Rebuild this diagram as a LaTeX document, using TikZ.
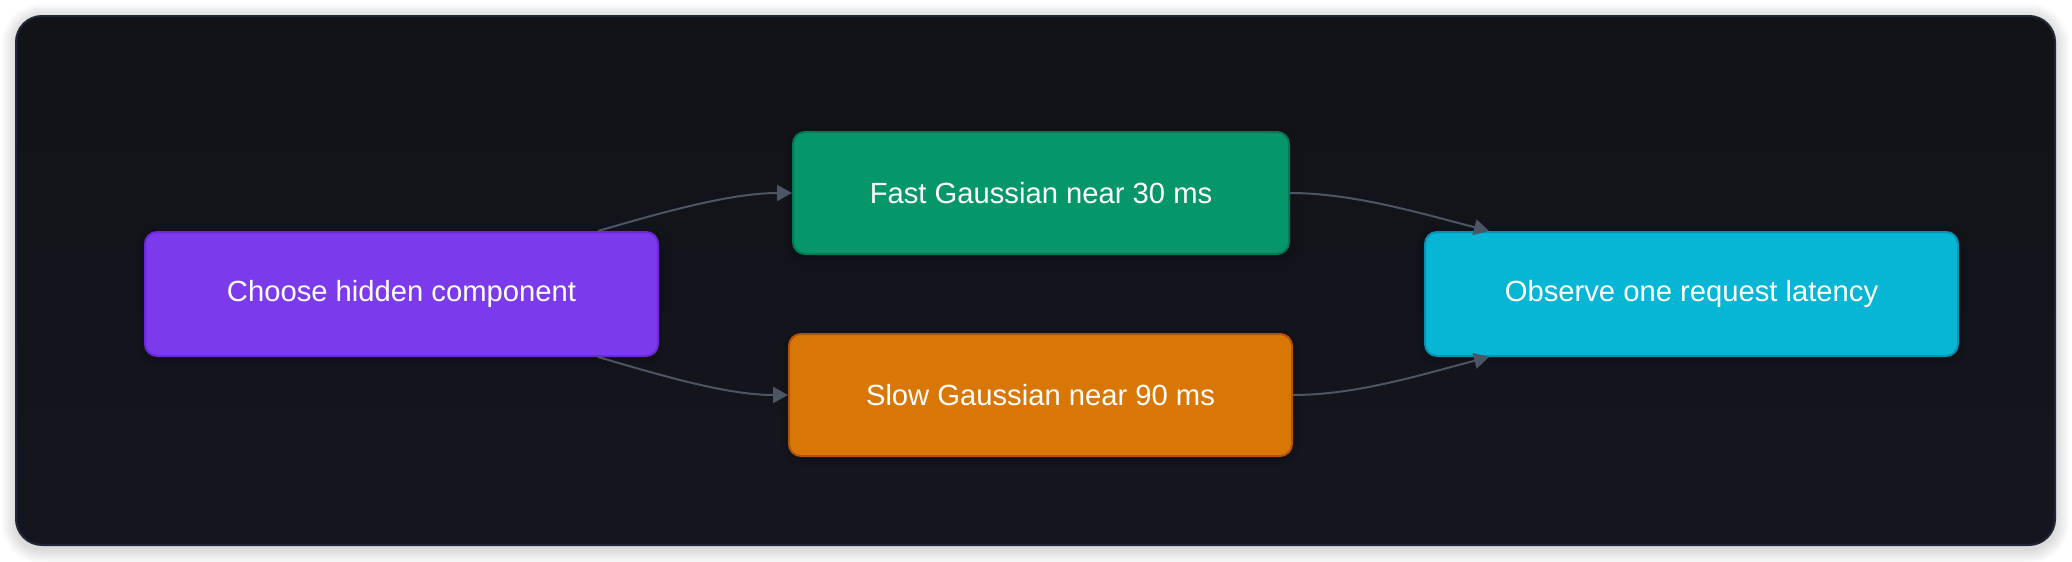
\documentclass[tikz,border=0pt]{standalone}
\usepackage{fontspec}
\setmainfont{Liberation Sans}
\usetikzlibrary{calc,arrows.meta,shadows.blur}

\definecolor{panelTop}{HTML}{111317}
\definecolor{panelBot}{HTML}{15151F}
\definecolor{panelEdge}{HTML}{1F2738}
\definecolor{wire}{HTML}{4B5563}
\definecolor{purpleFill}{HTML}{7C3AED}
\definecolor{purpleEdge}{HTML}{6D28D9}
\definecolor{greenFill}{HTML}{059669}
\definecolor{greenEdge}{HTML}{047857}
\definecolor{orangeFill}{HTML}{D97706}
\definecolor{orangeEdge}{HTML}{B45309}
\definecolor{cyanFill}{HTML}{06B6D4}
\definecolor{cyanEdge}{HTML}{0891B2}

\tikzset{
	box/.style={rounded corners=6pt, line width=1pt, inner sep=0pt, text=white,
		font=\fontsize{14.6}{18}\selectfont,
		blur shadow={shadow xshift=0pt, shadow yshift=-1.5pt, shadow blur radius=4pt, shadow opacity=30}},
	wireline/.style={draw=wire, line width=1pt, -{Triangle[length=7.5pt,width=8pt]}}
}

\begin{document}
\begin{tikzpicture}[x=0.5pt, y=-0.5pt]
		%%%%% START %%%%%
		
		\useasboundingbox[fill=white] (0, 0) rectangle (2072, 562);
		
		% soft shadow round the panel
		\foreach \s in {1,...,7}
			\fill[black, opacity=0.018, rounded corners=13pt+\s pt] (16-2*\s, 18-2*\s) rectangle (2055+2*\s, 549+2*\s);
		
		\fill[rounded corners=13pt, top color=panelTop, bottom color=panelBot, draw=panelEdge, line width=1pt]
			(16, 16) rectangle (2055, 545);
		
		\node[box, fill=purpleFill, draw=purpleEdge, minimum width=256.5pt, minimum height=62pt] (choose) at (401.5, 294) {Choose hidden component};
		\node[box, fill=greenFill, draw=greenEdge, minimum width=248pt, minimum height=61pt] (fast) at (1041, 193) {Fast Gaussian near 30 ms};
		\node[box, fill=orangeFill, draw=orangeEdge, minimum width=251.5pt, minimum height=61pt] (slow) at (1040.5, 395) {Slow Gaussian near 90 ms};
		\node[box, fill=cyanFill, draw=cyanEdge, minimum width=266.5pt, minimum height=62pt] (observe) at (1691.5, 294) {Observe one request latency};
		
		\coordinate (chooseTop) at ($(choose.north east)+(-61, 0)$);
		\coordinate (chooseBot) at ($(choose.south east)+(-61, 0)$);
		\coordinate (observeTop) at ($(observe.north west)+(65, 0)$);
		\coordinate (observeBot) at ($(observe.south west)+(65, 0)$);
		
		\draw[wireline] (chooseTop) .. controls (660, 213) and (730, 193) .. (fast.west);
		\draw[wireline] (chooseBot) .. controls (660, 375) and (726, 395) .. (slow.west);
		\draw[wireline] (fast.east) .. controls (1352, 193) and (1420, 213) .. (observeTop);
		\draw[wireline] (slow.east) .. controls (1356, 395) and (1420, 375) .. (observeBot);
		
		%%%%% END %%%%%
	\end{tikzpicture}
\end{document}
